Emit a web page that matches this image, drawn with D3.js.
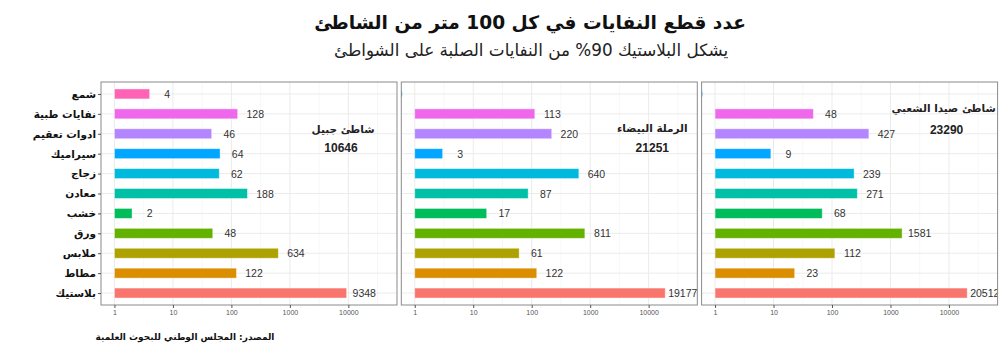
<!DOCTYPE html>
<html><head><meta charset="utf-8">
<script src="https://cdn.jsdelivr.net/npm/d3@7"></script>
<style>body{margin:0;background:#fff}</style>
</head><body><svg id="c" width="1000" height="356"></svg>
<script>
const categories = ["شمع","نفايات طبية","ادوات تعقيم","سيراميك","زجاج","معادن","خشب","ورق","ملابس","مطاط","بلاستيك"];
const colors = ["#FF63B6","#EF67EB","#B385FF","#00A6FF","#00BADE","#00C1A7","#00BD5C","#64B200","#AEA200","#DB8E00","#F8766D"];
const beaches = ["شاطئ جبيل","الرملة البيضاء","شاطئ صيدا الشعبي"];
const totals = [10646, 21251, 23290];
const jbeilValues  = [4,128,46,64,62,188,2,48,634,122,9348];
const ramletValues = [0,113,220,3,640,87,17,811,61,122,19177];
const saidaValues  = [0,48,427,9,239,271,68,1581,112,23,20512];
const tickValues = [1,10,100,1000,10000];
const tickLabels = ["1","10","100","1000","10000"];
const titleText = "عدد قطع النفايات في كل 100 متر من الشاطئ";
const subtitleText = "يشكل البلاستيك 90% من النفايات الصلبة على الشواطئ";
const captionText = "المصدر: المجلس الوطني للبحوث العلمية";

(function(){
const panelValues = [jbeilValues, ramletValues, saidaValues];
const svg = d3.select("#c");
const AR = "'DejaVu Sans', sans-serif";
const NUM = "'Liberation Sans', Arial, sans-serif";

const W = 296, gap = 4.3, left0 = 101, pTop = 82, pBot = 305;
const lo = -0.23, hi = 4.832;
const y = d3.scalePoint().domain(categories).range([pTop, pBot]).padding(0.6);
const step = y.step();

const annot = [
  {nx: 242, ny: 129, tx: 240, ty: 147},
  {nx: 251, ny: 128, tx: 251, ty: 147},
  {nx: 242, ny: 108, tx: 245, ty: 129}
];

const defs = svg.append("defs");

panelValues.forEach((vals, p) => {
  const L = left0 + p*(W+gap);
  const x = d3.scaleLog().domain([Math.pow(10,lo), Math.pow(10,hi)]).range([L, L+W]);
  const g = svg.append("g");
  defs.append("clipPath").attr("id","clip"+p).append("rect")
    .attr("x",L).attr("y",pTop).attr("width",W).attr("height",pBot-pTop);
  const inner = g.append("g").attr("clip-path","url(#clip"+p+")");
  const minor = d3.range(0,5).map(d => Math.pow(10, d+0.5));
  inner.selectAll(".mn").data(minor).join("line")
    .attr("x1",d=>x(d)).attr("x2",d=>x(d)).attr("y1",pTop).attr("y2",pBot)
    .attr("stroke","#f2f2f2").attr("stroke-width",0.6);
  inner.selectAll(".mj").data(tickValues).join("line")
    .attr("x1",d=>x(d)).attr("x2",d=>x(d)).attr("y1",pTop).attr("y2",pBot)
    .attr("stroke","#ebebeb").attr("stroke-width",1);
  inner.selectAll(".hg").data(categories).join("line")
    .attr("x1",L).attr("x2",L+W).attr("y1",d=>y(d)).attr("y2",d=>y(d))
    .attr("stroke","#ebebeb").attr("stroke-width",1);
  const data = categories.map((c,i)=>({c, v: vals[i], col: colors[i]}));
  inner.selectAll(".bar").data(data.filter(d=>d.v>0)).join("rect")
    .attr("x", x(1)).attr("y", d=>y(d.c)-step*0.25)
    .attr("width", d=>x(d.v)-x(1)).attr("height", step*0.5)
    .attr("fill", d=>d.col).attr("stroke","rgba(255,255,255,0.5)").attr("stroke-width",0.8);
  inner.selectAll(".lbl").data(data).join("text")
    .attr("x", d=> d.v>0 ? x(d.v*2) : L-2)
    .attr("y", d=>y(d.c)+4)
    .attr("text-anchor","middle")
    .attr("font-family",NUM).attr("font-size",10.5).attr("fill","#333")
    .text(d=>d.v);
  g.append("rect").attr("x",L).attr("y",pTop).attr("width",W).attr("height",pBot-pTop)
    .attr("fill","none").attr("stroke","#8a8a8a").attr("stroke-width",1);
  const xa = g.append("g").attr("transform",`translate(0,${pBot})`)
    .call(d3.axisBottom(x).tickValues(tickValues).tickFormat((d,i)=>tickLabels[i]).tickSize(3).tickPadding(2));
  xa.select(".domain").remove();
  xa.selectAll(".tick line").attr("stroke","#555");
  xa.selectAll("text").attr("font-family",NUM).attr("font-size",7).attr("fill","#555");
  const a = annot[p];
  g.append("text").attr("x",L+a.nx).attr("y",a.ny+4).attr("text-anchor","middle")
    .attr("font-family",AR).attr("font-weight","bold").attr("font-size",10.5).attr("fill","#222")
    .text(beaches[p]);
  g.append("text").attr("x",L+a.tx).attr("y",a.ty+5).attr("text-anchor","middle")
    .attr("font-family",NUM).attr("font-weight","bold").attr("font-size",12).attr("fill","#222")
    .text(totals[p]);
});

const ya = svg.append("g").attr("transform",`translate(${left0},0)`)
  .call(d3.axisLeft(y).tickSize(3).tickPadding(2));
ya.select(".domain").remove();
ya.selectAll(".tick line").attr("stroke","#555");
ya.selectAll("text").attr("font-family",AR).attr("font-weight","bold").attr("font-size",10.5).attr("fill","#111");

svg.append("text").attr("x",530).attr("y",29).attr("text-anchor","middle")
  .attr("font-family",AR).attr("font-weight","bold").attr("font-size",18.6).attr("fill","#111")
  .text(titleText);
svg.append("text").attr("x",531).attr("y",56).attr("text-anchor","middle")
  .attr("font-family",AR).attr("font-size",16.8).attr("fill","#222")
  .text(subtitleText);
svg.append("text").attr("x",185).attr("y",340).attr("text-anchor","middle")
  .attr("font-family",AR).attr("font-weight","bold").attr("font-size",9).attr("fill","#111")
  .text(captionText);
})();
</script></body></html>
